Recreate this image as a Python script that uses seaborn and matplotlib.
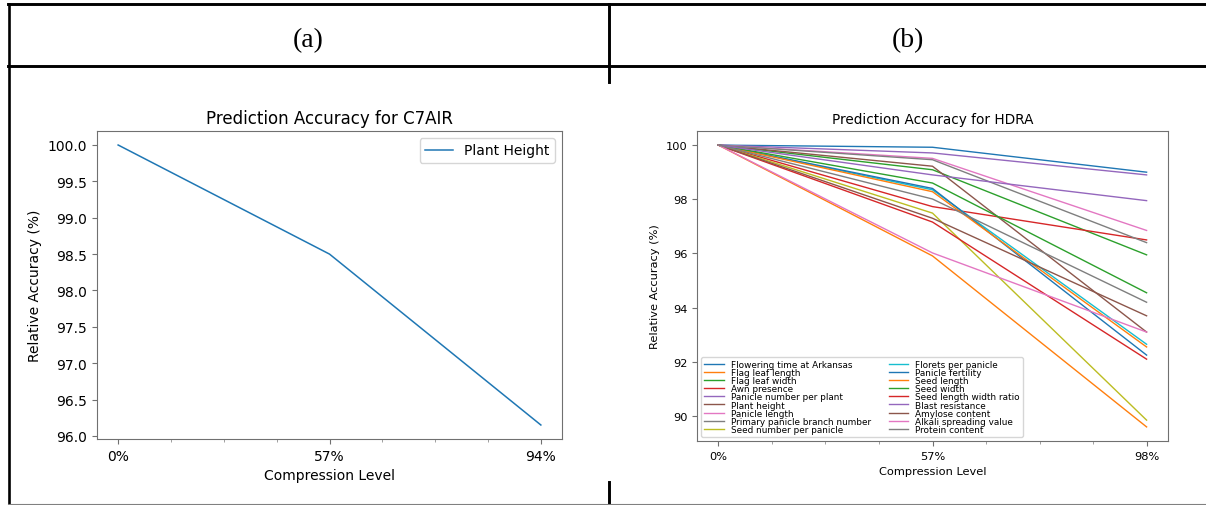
import pandas as pd
import numpy as np
import matplotlib
matplotlib.use("Agg")
import matplotlib.pyplot as plt
from matplotlib.lines import Line2D
from matplotlib.ticker import AutoMinorLocator
import seaborn as sns

# data for panel (a) - C7AIR
levels_a = ["0%", "57%", "94%"]
acc_a = [100.0, 98.5, 96.15]

# data for panel (b) - HDRA
levels_b = ["0%", "57%", "98%"]
traits_b = [
    "Flowering time at Arkansas", "Flag leaf length", "Flag leaf width",
    "Awn presence", "Panicle number per plant", "Plant height",
    "Panicle length", "Primary panicle branch number", "Seed number per panicle",
    "Florets per panicle", "Panicle fertility", "Seed length",
    "Seed width", "Seed length width ratio", "Blast resistance",
    "Amylose content", "Alkali spreading value", "Protein content",
]
acc_b_0 = [100.0] * 18
acc_b_57 = [99.92, 95.91, 99.09, 97.73, 99.71, 99.22, 99.51, 99.46, 97.49,
            98.35, 98.40, 98.28, 98.60, 97.16, 98.90, 97.30, 96.02, 98.01]
acc_b_98 = [99.00, 89.60, 95.95, 96.50, 98.90, 93.10, 96.85, 96.40, 89.85,
            92.65, 92.25, 92.55, 94.55, 92.10, 97.95, 93.70, 93.10, 94.20]

# long tables
df_a = pd.DataFrame({"pos": range(len(levels_a)), "acc": acc_a})
rows = []
for i, t in enumerate(traits_b):
    for j, v in enumerate([acc_b_0[i], acc_b_57[i], acc_b_98[i]]):
        rows.append({"trait": t, "pos": j, "acc": v})
df_b = pd.DataFrame(rows)

tab10 = sns.color_palette("tab10")
palette_b = {t: tab10[i % 10] for i, t in enumerate(traits_b)}

W, H = 1206, 506
fig = plt.figure(figsize=(W / 100, H / 100), dpi=100)

def fx(px):
    return px / W

def fy(py):
    return 1 - py / H

def style_axes(ax):
    for s in ax.spines.values():
        s.set_color("#707070")
        s.set_linewidth(0.8)
    ax.tick_params(colors="#707070", labelcolor="black")
    ax.tick_params(which="minor", colors="#909090")
    ax.xaxis.set_minor_locator(AutoMinorLocator(4))

# panel (a)
ax_a = fig.add_axes([fx(97), fy(440), fx(562 - 97), (440 - 132) / H])
sns.lineplot(data=df_a, x="pos", y="acc", ax=ax_a, color=tab10[0],
             linewidth=1.1, label="Plant Height", errorbar=None)
ax_a.set_xticks(range(len(levels_a)))
ax_a.set_xticklabels(levels_a)
ax_a.set_xlabel("Compression Level", fontsize=10)
ax_a.set_ylabel("Relative Accuracy (%)", fontsize=10)
ax_a.set_title("Prediction Accuracy for C7AIR", fontsize=12)
ax_a.tick_params(labelsize=10)
ax_a.legend(loc="upper right", fontsize=10)
style_axes(ax_a)

# panel (b)
ax_b = fig.add_axes([fx(697), fy(442), fx(1168 - 697), (442 - 132) / H])
sns.lineplot(data=df_b, x="pos", y="acc", hue="trait", hue_order=traits_b,
             palette=palette_b, ax=ax_b, linewidth=1.0, errorbar=None)
ax_b.set_xticks(range(len(levels_b)))
ax_b.set_xticklabels(levels_b)
ax_b.set_xlabel("Compression Level", fontsize=8.2)
ax_b.set_ylabel("Relative Accuracy (%)", fontsize=8.2)
ax_b.set_title("Prediction Accuracy for HDRA", fontsize=9.8)
ax_b.tick_params(labelsize=8.2)
h, l = ax_b.get_legend_handles_labels()
ax_b.legend(h, l, loc="lower left", ncol=2, fontsize=6.4, labelspacing=-0.1,
            handlelength=2.2, borderaxespad=0.5, borderpad=0.3)
style_axes(ax_b)

# table frame around the two panels
lw = 2.1
frame = [
    ((8, 1206), (5, 5), lw, "black"),
    ((8, 1206), (66.5, 66.5), lw, "black"),
    ((8.5, 8.5), (5, 506), 1.9, "black"),
    ((608.5, 608.5), (5, 83), lw, "black"),
    ((608.5, 608.5), (483, 506), lw, "black"),
    ((8, 1206), (505, 505), 0.8, "#808080"),
]
for xs, ys, w, c in frame:
    fig.add_artist(Line2D([fx(x) for x in xs], [fy(y) for y in ys],
                          transform=fig.transFigure, linewidth=w, color=c))

fig.text(fx(308), fy(41), "(a)", fontsize=20, family="Liberation Serif",
         ha="center", va="center")
fig.text(fx(908), fy(41), "(b)", fontsize=20, family="Liberation Serif",
         ha="center", va="center")

fig.savefig("out.png", dpi=100)
